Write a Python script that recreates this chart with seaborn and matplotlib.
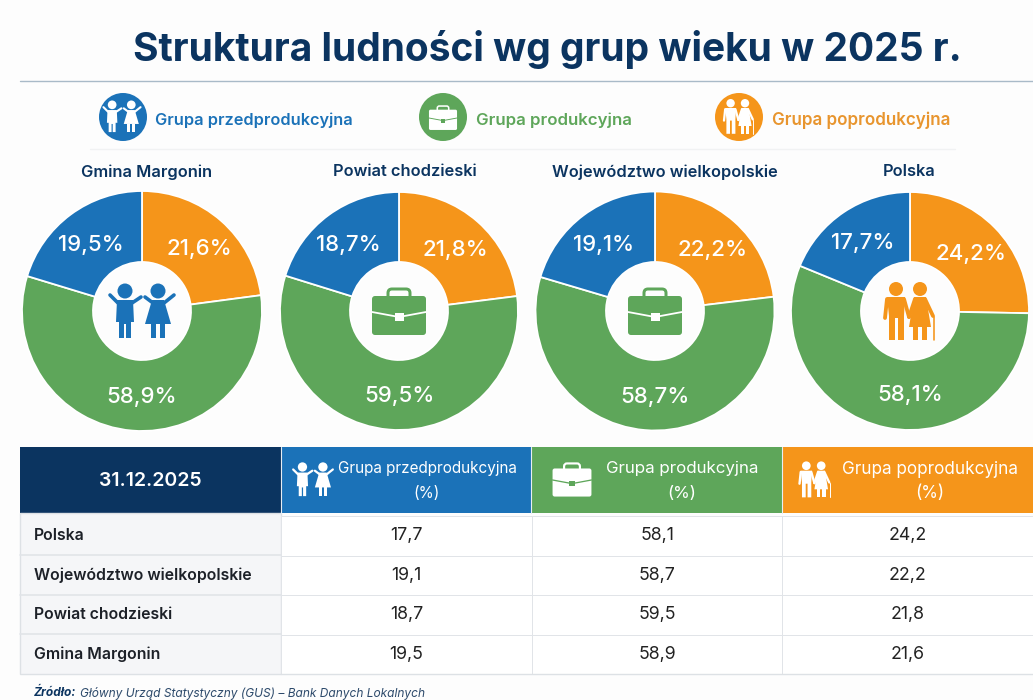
import numpy as np
import matplotlib
matplotlib.use("Agg")
import matplotlib.pyplot as plt
from matplotlib.colors import ListedColormap
from matplotlib.patches import Circle, FancyBboxPatch, Polygon, Rectangle
import seaborn as sns

# values, in table order
regions = ["Polska", "Województwo wielkopolskie", "Powiat chodzieski", "Gmina Margonin"]
pre_prod = [17.7, 19.1, 18.7, 19.5]
prod = [58.1, 58.7, 59.5, 58.9]
post_prod = [24.2, 22.2, 21.8, 21.6]
# slices as they are actually drawn in the picture, they differ a bit from the printed numbers
pre_slice = [18.8, 20.4, 20.2, 20.3]
prod_slice = [55.9, 56.5, 56.8, 56.8]
post_slice = [25.3, 23.1, 23.0, 22.9]
group_names = ["Grupa przedprodukcyjna", "Grupa produkcyjna", "Grupa poprodukcyjna"]
date_label = "31.12.2025"
title = "Struktura ludności wg grup wieku w 2025 r."

W, H = 1033, 700
BLUE, GREEN, ORANGE = "#1b72b8", "#5ea65a", "#f5951a"
NAVY = "#0b3460"
BG = "#fdfdfd"

sns.set_theme(style="white")
plt.rcParams["font.family"] = ["Inter", "DejaVu Sans"]


def px(v):
    return v * 0.72


def draw_kids(ax, cx, cy, s, c):
    def P(*pts):
        return [(cx + x * s, cy + y * s) for x, y in pts]
    lw = px(3.6 * s)
    # boy
    ax.add_patch(Circle((cx - 17 * s, cy - 21 * s), 7.5 * s, color=c, lw=0))
    ax.add_patch(Polygon(P((-25, -12), (-9, -12), (-8, 10), (-11, 10), (-11, 26), (-16, 26), (-16, 12), (-18, 12), (-18, 26), (-23, 26), (-23, 10), (-26, 10)), color=c, lw=0))
    ax.plot(*zip(*P((-24, -9), (-32, -17))), color=c, lw=lw, solid_capstyle="round")
    ax.plot(*zip(*P((-10, -9), (-1, -15))), color=c, lw=lw, solid_capstyle="round")
    # girl
    ax.add_patch(Circle((cx + 16 * s, cy - 21 * s), 7.5 * s, color=c, lw=0))
    ax.add_patch(Polygon(P((10, -12), (22, -12), (29, 12), (3, 12)), color=c, lw=0))
    ax.add_patch(Rectangle((cx + 9 * s, cy + 12 * s), 5 * s, 14 * s, color=c, lw=0))
    ax.add_patch(Rectangle((cx + 18 * s, cy + 12 * s), 5 * s, 14 * s, color=c, lw=0))
    ax.plot(*zip(*P((11, -9), (3, -15))), color=c, lw=lw, solid_capstyle="round")
    ax.plot(*zip(*P((22, -9), (32, -17))), color=c, lw=lw, solid_capstyle="round")


def draw_case(ax, cx, cy, s, c, seam):
    ax.add_patch(FancyBboxPatch((cx - 11 * s, cy - 23 * s), 22 * s, 12 * s, boxstyle=f"round,pad=0,rounding_size={4 * s}",
                                fc="none", ec=c, lw=px(3 * s)))
    ax.add_patch(FancyBboxPatch((cx - 27 * s, cy - 16 * s), 54 * s, 39 * s, boxstyle=f"round,pad=0,rounding_size={3 * s}",
                                fc=c, ec="none"))
    ax.plot([cx - 27 * s, cx, cx + 27 * s], [cy + 0 * s, cy + 5 * s, cy + 0 * s], color=seam, lw=px(1.8 * s))
    ax.add_patch(Rectangle((cx - 4.5 * s, cy + 1 * s), 9 * s, 8 * s, color=seam, lw=0))


def draw_elders(ax, cx, cy, s, c):
    def P(*pts):
        return [(cx + x * s, cy + y * s) for x, y in pts]
    lw = px(3.8 * s)
    # man
    ax.add_patch(Circle((cx - 14 * s, cy - 23 * s), 7 * s, color=c, lw=0))
    ax.add_patch(Polygon(P((-23, -15), (-5, -15), (-6, 4), (-6, 28), (-12, 28), (-12, 6), (-15, 6), (-15, 28), (-21, 28), (-21, 4)), color=c, lw=0))
    ax.plot(*zip(*P((-23, -13), (-25, 6))), color=c, lw=lw, solid_capstyle="round")
    ax.plot(*zip(*P((-6, -13), (-1, 5))), color=c, lw=lw, solid_capstyle="round")
    # woman
    ax.add_patch(Circle((cx + 10 * s, cy - 23 * s), 7 * s, color=c, lw=0))
    ax.add_patch(Polygon(P((4, -15), (16, -15), (21, 15), (-1, 15)), color=c, lw=0))
    ax.add_patch(Rectangle((cx + 3 * s, cy + 15 * s), 5 * s, 13 * s, color=c, lw=0))
    ax.add_patch(Rectangle((cx + 12 * s, cy + 15 * s), 5 * s, 13 * s, color=c, lw=0))
    ax.plot(*zip(*P((5, -13), (-1, 5))), color=c, lw=lw, solid_capstyle="round")
    ax.plot(*zip(*P((15, -13), (23, 4))), color=c, lw=lw, solid_capstyle="round")
    ax.plot(*zip(*P((24, 5), (24, 28))), color=c, lw=px(1.6 * s))


def pct_label(v):
    return f"{v:.1f}%".replace(".", ",")


fig = plt.figure(figsize=(W / 100, H / 100), dpi=100, facecolor=BG)

# background layer in pixel coordinates
bg = fig.add_axes([0, 0, 1, 1], zorder=0)
bg.set_xlim(0, W)
bg.set_ylim(H, 0)
bg.axis("off")
bg.plot([20, W], [81, 81], color="#a9bac8", lw=1)
bg.plot([90, 955], [149, 149], color="#f1f2f3", lw=1)

bg.add_patch(Rectangle((20, 447), 261, 65.5, color=NAVY, lw=0))
for x0, x1, col in [(281, 531, BLUE), (531, 782, GREEN), (782, W, ORANGE)]:
    bg.add_patch(Rectangle((x0, 447), x1 - x0, 65.5, color=col, lw=0))
    bg.plot([x0, x0], [447, 512.5], color="#e8eef3", lw=0.8)
bg.add_patch(Rectangle((20, 512.5), 261, 161, fc="#f5f6f8", ec="#dde1e5", lw=1))
for y in [555, 594.5, 634]:
    bg.plot([20, 281], [y, y], color="#e1e4e8", lw=1.2)

# pies, in table order
pie_pos = [(910, 311, 119), (655, 311, 119.5), (399, 311, 119), (142, 311, 120)]
for i, (cx, cy, r) in enumerate(pie_pos):
    ax = fig.add_axes([(cx - r) / W, 1 - (cy + r) / H, 2 * r / W, 2 * r / H], zorder=2)
    printed = iter([post_prod[i], prod[i], pre_prod[i]])
    wedges, texts, autotexts = ax.pie([post_slice[i], prod_slice[i], pre_slice[i]], colors=[ORANGE, GREEN, BLUE],
                                      startangle=90, counterclock=False,
                                      autopct=lambda _: pct_label(next(printed)), pctdistance=0.72, radius=1,
                                      wedgeprops=dict(width=1 - 49 / r, edgecolor="white", linewidth=1.3, clip_on=False),
                                      textprops=dict(color="white", fontsize=16, fontweight="medium"))
    autotexts[1].set_x(0)
    autotexts[0].set_y(autotexts[0].get_position()[1] - 0.025)
    autotexts[2].set_y(autotexts[2].get_position()[1] - 0.025)
    ax.set_xlim(-1, 1)
    ax.set_ylim(-1, 1)

# table body
table_vals = np.array([pre_prod, prod, post_prod]).T
table_text = np.array([[f"{v:.1f}".replace(".", ",") for v in row] for row in table_vals])
hm = fig.add_axes([281 / W, 1 - 674 / H, (W - 281) / W, (674 - 516) / H], zorder=2)
sns.heatmap(table_vals, ax=hm, cmap=ListedColormap(["#ffffff"]), cbar=False, annot=table_text, fmt="",
            annot_kws=dict(color="#222222", fontsize=12.8), linewidths=0.6, linecolor="#e1e4e8",
            xticklabels=False, yticklabels=regions)
hm.tick_params(axis="y", length=0, pad=px(247), rotation=0)
for lab in hm.get_yticklabels():
    lab.set_ha("left")
    lab.set_fontsize(11.4)
    lab.set_fontweight("semibold")
    lab.set_color("#1d2128")

# text and icons on top
top = fig.add_axes([0, 0, 1, 1], zorder=3)
top.set_xlim(0, W)
top.set_ylim(H, 0)
top.axis("off")
top.patch.set_alpha(0)

top.text(547.5, 49.5, title, ha="center", va="center", fontsize=28.05, fontweight="bold", color=NAVY)

legend_pos = [(123, 155, BLUE, BLUE, 11.75), (443, 476, GREEN, GREEN, 12.15), (739, 772, ORANGE, "#e8952e", 12.25)]
for name, (cx, tx, col, tcol, fs) in zip(group_names, legend_pos):
    top.add_patch(Circle((cx, 117), 24, color=col, lw=0))
    top.text(tx, 120, name, ha="left", va="center", fontsize=fs, fontweight="semibold", color=tcol)
draw_kids(top, 122, 117, 0.58, "white")
draw_case(top, 443, 118, 0.52, "white", GREEN)
draw_elders(top, 739, 117, 0.6, "white")

title_x = [909, 665, 405, 147]
for region, x in zip(regions, title_x):
    top.text(x, 172, region, ha="center", va="center", fontsize=11.8, fontweight="semibold", color=NAVY)

draw_kids(top, 142, 312, 1, BLUE)
draw_case(top, 399, 312, 1, GREEN, "white")
draw_case(top, 655, 312, 1, GREEN, "white")
draw_elders(top, 910, 312, 1, ORANGE)

top.text(150, 481, date_label, ha="center", va="center", fontsize=14, fontweight="semibold", color="white")
header_x = [427, 682, 930]
header_fs = [11, 12.2, 12.3]
for name, x, fs in zip(group_names, header_x, header_fs):
    top.text(x, 469, name, ha="center", va="center", fontsize=fs, color="white")
    top.text(x, 494, "(%)", ha="center", va="center", fontsize=fs, color="white")
draw_kids(top, 313, 480, 0.62, "white")
draw_case(top, 572, 480, 0.72, "white", GREEN)
draw_elders(top, 815, 480, 0.62, "white")

# bottom edge of the table
top.plot([281, W], [673.5, 673.5], color="#dde1e5", lw=1)

top.text(34, 693, "Źródło:", ha="left", va="center", fontsize=8.6, fontweight="bold", fontstyle="italic", color=NAVY)
top.text(80, 693, "Główny Urząd Statystyczny (GUS) – Bank Danych Lokalnych", ha="left", va="center",
         fontsize=8.6, fontstyle="italic", color="#2d4a6b")

plt.savefig("out.png", dpi=100, facecolor=BG)
plt.close()
